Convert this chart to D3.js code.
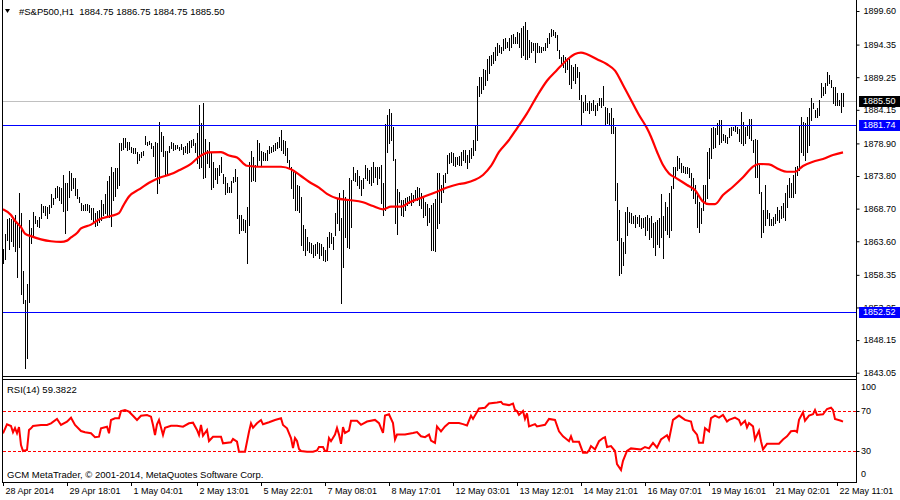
<!DOCTYPE html>
<html><head><meta charset="utf-8">
<script src="https://cdn.jsdelivr.net/npm/d3@7"></script>
<style>
body{margin:0;background:#fff}
svg{display:block}
text{font-family:"Liberation Sans",Arial,sans-serif;fill:#000}
</style>
</head><body>
<svg id="chart" width="900" height="500"></svg>
<script>
// ---------- DATA ----------
const symbolName = "#S&P500,H1";
const lastOHLC = [1884.75, 1886.75, 1884.75, 1885.50];
const bidPrice = 1885.50;
const levelLines = [1881.74, 1852.52];
const rsiPeriod = 14;
const rsiLast = 59.3822;
const copyright = "GCM MetaTrader, \u00a9 2001-2014, MetaQuotes Software Corp.";

const high = [
1862.39,1864.73,1867.08,1867.24,1867.08,1867.39,1867.70,1866.45,1871.15,1868.02,
1858.95,1854.41,1856.91,1866.92,1865.67,1868.17,1867.55,1866.92,1867.39,1869.42,
1869.11,1869.11,1868.96,1869.27,1870.99,1870.36,1871.93,1872.24,1872.08,1871.93,
1873.96,1872.71,1872.71,1874.59,1874.27,1873.49,1873.49,1871.77,1870.52,1869.58,
1869.27,1869.42,1869.42,1869.27,1868.80,1868.80,1868.02,1868.33,1868.49,1870.05,
1869.42,1870.99,1873.02,1873.80,1875.21,1874.43,1875.05,1875.05,1878.96,1878.96,
1879.74,1879.74,1879.12,1879.12,1878.34,1878.18,1878.18,1877.56,1877.24,1877.56,
1877.71,1880.06,1879.12,1879.28,1878.96,1878.49,1879.12,1878.96,1882.25,1880.68,
1880.06,1877.71,1877.71,1878.49,1879.12,1878.96,1878.65,1878.65,1878.34,1878.81,
1878.34,1878.49,1878.96,1879.28,1879.43,1879.59,1878.96,1880.53,1884.91,1882.09,
1885.22,1879.59,1877.87,1879.12,1877.40,1875.99,1875.05,1875.05,1875.52,
1876.77,1874.12,1873.65,1872.71,1872.08,1873.02,1873.65,1874.90,1873.65,1867.70,
1867.70,1867.08,1866.92,1868.96,1875.99,1877.71,1876.77,1875.52,1879.43,1878.96,
1877.71,1877.56,1877.40,1877.87,1878.49,1878.34,1878.65,1878.96,1879.12,1879.90,
1880.99,1879.43,1879.28,1878.18,1876.31,1875.21,1874.43,1874.43,1872.40,1872.24,
1870.52,1866.14,1865.52,1864.26,1863.48,1863.33,1863.01,1863.17,1863.48,1863.33,
1863.17,1862.70,1862.23,1864.26,1865.05,1864.89,1864.26,1868.02,1870.36,1871.15,
1867.24,1871.61,1870.52,1870.05,1873.49,1873.18,1875.21,1874.27,1874.74,1873.80,
1873.18,1873.49,1875.52,1875.05,1874.74,1875.21,1875.99,1875.21,1875.21,1875.21,
1875.52,1872.71,1881.93,1883.34,1884.28,1883.65,1881.46,1876.46,1871.77,1871.30,
1870.05,1870.05,1870.36,1870.52,1870.68,1871.15,1870.83,1871.61,1872.08,1871.93,
1871.15,1870.52,1869.74,1869.42,1868.80,1869.27,1869.58,1870.21,1874.27,1874.27,
1872.40,1873.96,1874.27,1877.09,1877.40,1877.56,1877.40,1876.77,1876.77,1876.93,
1877.56,1877.87,1877.87,1877.09,1877.87,1878.18,1879.43,1881.78,
1887.87,1889.28,1889.28,1890.53,1890.38,1892.10,1892.56,1892.72,1893.19,1893.97,
1894.60,1894.28,1893.97,1895.22,1895.38,1894.75,1895.38,1895.85,1896.00,1895.53,
1896.32,1896.16,1896.94,1897.26,1897.88,1896.63,1895.07,1894.75,1894.60,1894.60,
1894.60,1894.13,1893.97,1893.97,1894.60,1895.38,1896.16,1896.79,1896.63,1896.32,
1895.85,1893.50,1892.41,1892.72,1892.41,1892.25,1892.41,1891.16,1890.85,1891.31,
1890.85,1890.06,
1886.47,1885.37,1886.47,1885.22,1885.53,1885.22,1885.69,1884.91,1885.22,1886.00,
1886.00,1887.87,1884.59,1884.43,1883.65,1884.43,1882.87,1881.46,1872.71,1868.49,
1864.11,1863.48,1868.17,1868.96,1868.17,1868.02,1867.55,1867.70,1867.39,1867.70,
1867.24,1867.24,1867.39,1867.70,1867.24,1867.55,1866.45,1866.61,1866.92,1867.24,
1870.99,1867.55,1869.74,1868.96,1871.15,1872.24,1875.21,1875.21,1876.93,1876.62,
1875.84,1875.37,1875.21,1875.21,1875.05,
1874.27,1873.49,1872.40,1870.83,1869.74,1868.80,1872.40,1872.40,1877.56,1878.18,
1881.31,1881.46,1881.31,1882.09,1882.56,1882.56,1880.37,1880.21,1879.90,1881.31,
1881.46,1881.46,1881.78,1881.46,1881.15,1883.81,1882.25,1881.46,1881.78,1882.71,
1882.71,1879.43,1879.59,1879.43,1875.52,1871.30,1868.49,1872.40,1868.49,1868.02,
1867.08,1867.39,1867.86,1868.96,1868.49,1869.11,1869.58,1871.15,1872.40,1873.49,
1872.71,1873.96,1875.21,1875.37,1881.78,1883.03,1882.25,1882.09,1883.03,1884.43,
1886.00,1885.22,1884.12,1884.43,1885.69,1888.34,1887.72,1888.34,1890.06,1889.60,
1888.81,1887.72,1887.72,1886.78,1885.69,1886.78,1886.75
];

const low = [
1860.20,1860.82,1863.80,1862.39,1863.64,1862.86,1862.08,1858.01,1862.70,1855.35,
1853.95,1843.78,1845.35,1854.10,1863.33,1864.58,1866.45,1865.98,1865.83,1867.24,
1868.17,1867.70,1867.24,1868.02,1868.96,1869.42,1870.36,1870.52,1870.05,1869.58,
1868.33,1864.89,1868.49,1870.52,1871.61,1871.93,1870.83,1870.36,1869.74,1868.49,
1868.49,1868.49,1868.49,1868.17,1867.08,1866.45,1865.98,1866.14,1866.61,1866.92,
1867.70,1868.02,1867.55,1867.39,1865.98,1870.05,1870.68,1871.93,1872.40,1877.87,
1878.03,1878.34,1877.87,1878.03,1877.56,1877.40,1877.40,1875.84,1876.31,1876.77,
1877.09,1878.81,1878.65,1878.81,1878.18,1876.93,1873.80,1871.15,1872.71,1877.71,
1876.93,1874.12,1873.96,1877.56,1878.18,1877.87,1878.03,1878.18,1877.87,1878.03,
1877.24,1877.56,1877.40,1877.56,1878.34,1878.65,1877.56,1875.84,1875.05,1875.21,
1873.49,1873.65,1875.84,1875.21,1871.77,1872.08,1873.34,1872.71,1873.96,
1874.43,1872.71,1870.99,1871.30,1871.30,1871.30,1872.87,1873.02,1867.24,1864.89,
1865.36,1865.36,1865.05,1860.20,1866.14,1873.02,1873.18,1873.02,1875.52,1876.31,
1875.52,1876.31,1876.31,1876.31,1877.40,1877.56,1877.71,1877.87,1878.18,1878.34,
1877.87,1877.40,1877.09,1875.99,1875.05,1871.93,1870.36,1868.49,1868.49,1868.17,
1863.01,1862.23,1861.45,1862.23,1861.92,1861.76,1861.14,1861.45,1861.76,1860.98,
1861.45,1860.67,1860.51,1860.67,1862.70,1863.33,1862.39,1864.58,1866.45,1865.36,
1853.95,1859.57,1864.26,1862.70,1862.54,1865.83,1873.18,1873.02,1872.40,1871.93,
1870.83,1871.93,1873.49,1873.18,1872.71,1872.40,1872.87,1873.65,1872.55,1873.49,
1869.58,1867.70,1868.49,1877.56,1878.96,1879.43,1876.31,1866.45,1864.73,1869.74,
1867.70,1867.55,1868.49,1869.27,1869.58,1869.27,1869.74,1870.36,1870.05,1869.27,
1868.80,1867.39,1867.70,1866.14,1866.61,1862.23,1862.23,1862.08,1865.67,1866.45,
1869.74,1871.30,1872.87,1874.27,1875.84,1875.99,1875.52,1875.37,1875.68,1875.52,
1875.52,1876.31,1875.99,1875.05,1875.99,1876.62,1877.09,1877.87,
1879.43,1886.31,1886.78,1887.41,1888.03,1888.81,1889.91,1891.16,1891.47,1891.94,
1892.72,1893.19,1893.03,1893.50,1893.82,1893.97,1893.50,1893.97,1894.60,1894.60,
1894.60,1893.97,1892.41,1892.72,1892.10,1892.10,1892.41,1893.19,1893.50,1891.63,
1893.19,1893.19,1893.19,1893.50,1893.50,1893.97,1894.60,1895.69,1895.85,1895.53,
1893.50,1892.25,1891.47,1890.85,1890.06,1890.53,1888.19,1887.56,1888.81,1888.34,
1889.28,1885.84,
1881.78,1883.81,1884.12,1884.12,1883.65,1884.12,1884.12,1883.34,1884.12,1884.91,
1884.59,1884.91,1881.78,1882.09,1881.78,1880.53,1880.53,1870.05,1863.80,1858.32,
1858.64,1859.89,1861.76,1864.58,1866.61,1866.45,1866.45,1865.83,1866.45,1865.98,
1865.67,1865.83,1864.58,1865.36,1863.95,1864.26,1862.70,1861.45,1863.17,1862.70,
1864.26,1860.98,1865.36,1864.73,1864.26,1865.36,1871.93,1873.65,1874.74,1875.05,
1874.43,1874.43,1874.27,1874.27,1873.65,
1871.61,1870.36,1869.58,1865.83,1865.05,1866.45,1868.49,1869.58,1870.36,1873.49,
1876.62,1878.18,1878.34,1880.37,1878.81,1879.12,1879.43,1879.12,1878.96,1879.90,
1880.21,1880.99,1880.84,1880.53,1879.28,1878.96,1878.65,1878.96,1880.21,1879.74,
1879.43,1877.56,1873.65,1873.65,1871.15,1864.26,1865.05,1866.14,1867.24,1866.14,
1866.14,1866.14,1866.45,1866.92,1866.61,1867.24,1867.39,1866.92,1868.96,1870.52,
1870.52,1870.52,1871.15,1873.96,1874.74,1877.56,1877.09,1876.31,1877.56,1878.65,
1882.56,1884.43,1883.03,1883.03,1883.34,1886.16,1886.47,1886.78,1888.03,1888.34,
1887.72,1885.22,1884.91,1884.91,1884.91,1883.81,1884.75
];

const maIndex = [0,4,6,9,11,14,19,24,29,32,34,37,39,44,48,54,58,60,63,68,74,78,84,88,94,98,103,109,113,117,122,128,139,144,149,153,158,162,167,173,180,185,190,194,199,203,210,217,222,228,231,236,240,244,248,253,257,262,267,272,277,282,286,289,292,297,302,306,310,314,318,322,324,327,330,333,337,342,346,350,353,356,360,365,370,375,378,383,388,392,396,400,405,410,415,420];
const maValue = [1868.6,1867.7,1866.8,1865.8,1864.8,1864.4,1863.9,1863.6,1863.5,1863.7,1864.2,1864.9,1865.6,1866.2,1867.0,1867.55,1868.0,1869.1,1870.6,1871.7,1872.9,1873.5,1874.1,1874.7,1875.7,1876.8,1877.5,1877.55,1877.0,1876.7,1875.4,1875.25,1875.25,1874.85,1873.8,1872.9,1872.0,1871.0,1870.3,1870.05,1869.7,1869.1,1868.6,1869.0,1869.0,1869.65,1870.5,1871.35,1872.0,1872.55,1872.7,1873.2,1873.96,1875.37,1877.56,1879.43,1881.26,1883.6,1886.3,1888.7,1890.38,1891.94,1892.88,1893.1,1892.83,1892.05,1891.27,1890.27,1888.03,1885.69,1883.34,1881.26,1879.95,1877.6,1875.52,1874.2,1873.4,1872.4,1871.6,1869.8,1869.4,1869.4,1870.83,1872.13,1873.6,1875.26,1875.68,1875.63,1874.85,1874.47,1874.47,1875.37,1876.04,1876.46,1877.09,1877.5];

const rsiIndex = [0,2,4,5,6,7,8,9,10,12,13,14,15,19,22,24,27,29,32,34,36,39,41,44,46,48,49,52,53,54,56,58,59,61,63,65,67,69,72,74,75,76,77,78,80,81,84,87,90,93,95,97,98,99,100,102,103,105,109,110,114,115,117,118,121,123,124,125,127,129,130,133,136,139,140,142,144,145,146,147,148,149,152,155,157,158,160,161,162,163,164,166,167,168,169,170,171,173,174,177,179,182,186,188,190,191,193,195,196,197,201,205,207,209,211,213,214,216,217,219,221,223,228,230,232,234,235,238,241,243,247,249,250,253,255,256,257,258,260,261,262,263,266,267,271,273,276,278,280,283,284,285,288,290,292,293,294,296,298,300,301,302,304,306,307,309,310,312,314,319,321,323,325,327,329,332,333,335,338,341,344,345,347,348,350,351,353,354,356,358,360,362,363,366,368,369,371,372,373,375,376,378,379,380,382,386,388,390,392,394,396,397,398,400,401,403,405,406,407,410,412,414,415,416,419,420];
const rsiValue = [47.7,56.7,55,48.7,53,47.7,54,36,30,31,51,52.7,55,56,56,57.7,62,56,59.3,63.3,56,50,48.7,47.7,43.7,44.3,52.7,54.3,47.7,61,62.7,62.7,70,71,69.3,65.3,61,65.3,66,64.3,56,46,56.7,61,46,53.3,55.3,55.3,54.3,57.7,58.3,51,46,56,45.3,51,40,44.3,44.3,37.7,38.7,42,39.3,29.3,29.3,49.3,57.7,53.3,57.7,61,56.7,58.7,61,62.7,56,52.7,43,33,43,40,32,30,29.3,29.3,30.6,34,34,30,30,43,39.8,46.4,53,46.4,37.2,54,48,50.3,60.2,60.2,56.2,59.5,61.1,57.9,48,65.4,66.7,57.9,41.5,46.4,46.4,48,49,44.7,43.8,46.4,40.5,38.2,54.6,49.7,54.6,57.9,57.9,56.9,55.6,65.4,62.1,72.6,73.3,77.5,78.5,79.2,76.9,75.9,77.5,71,70,66.1,70,62.1,67.7,54.6,56.9,54.6,56.2,62.1,61.1,49.7,44.7,39.8,44.7,39.2,39.2,28.3,28.3,30.6,34.9,31.6,39.8,43,43.8,34,34.9,30,16.9,11,20.1,30,32.6,31.6,34,32.6,38.2,33.3,41.5,45.7,41.5,61.1,65.4,61.1,59.5,51.3,46.4,38.2,38.2,52.9,49.7,62.8,65.4,63.4,66.1,59.5,61.1,63.4,61.1,56.2,60.2,53.6,57.9,54.6,41.5,50.3,39.8,31.6,37.2,37.2,37.2,41.5,44.7,49.7,50.3,49,61.1,68.7,60.2,65.4,66.7,71,66.1,66.7,72,73.3,71,62.1,60.2,59.38];

const priceTicks = [1899.60,1894.35,1889.25,1884.15,1878.90,1873.80,1868.70,1863.60,1858.35,1853.25,1848.15,1843.05];
const rsiLevels = [70, 30];
const rsiScaleLabels = [100, 70, 30, 0];
const timeIndex = [0,32,64,97,129,161,193,225,257,289,321,353,385,417];
const timeLabels = ["28 Apr 2014","29 Apr 18:01","1 May 04:01","2 May 13:01","5 May 22:01","7 May 08:01","8 May 17:01","12 May 03:01","13 May 12:01","14 May 21:01","16 May 07:01","19 May 16:01","21 May 02:01","22 May 11:01"];

// ---------- LAYOUT ----------
const L = 2.5, R = 856.5;
const mainBottom = 376.5, rsiTop = 379.5, rsiBottom = 482.5;
const fs = 9;

const svg = d3.select("#chart");
svg.append("rect").attr("width",900).attr("height",500).attr("fill","#fff");

const x = d3.scaleLinear().domain([0, 420]).range([3, 843]);
const y = d3.scaleLinear().domain([1843.05, 1899.6]).range([372.7, 11]);
const yr = d3.scaleLinear().domain([0, 100]).range([481, 381]);
const px = v => Math.round(v) + 0.5;

svg.append("defs").append("clipPath").attr("id","clipMain")
  .append("rect").attr("x",L).attr("y",0).attr("width",R-L).attr("height",mainBottom);
svg.select("defs").append("clipPath").attr("id","clipRsi")
  .append("rect").attr("x",L).attr("y",rsiTop).attr("width",R-L).attr("height",rsiBottom-rsiTop);

const gMain = svg.append("g").attr("clip-path","url(#clipMain)");

// bid line (grey, behind bars)
gMain.append("line").attr("x1",L).attr("x2",R)
  .attr("y1",px(y(bidPrice))).attr("y2",px(y(bidPrice)))
  .attr("stroke","#c0c0c0").attr("stroke-width",1);

// bars (high-low)
const n = Math.min(high.length, low.length);
gMain.append("g").attr("shape-rendering","crispEdges")
  .selectAll("line").data(d3.range(n)).join("line")
  .attr("x1", i => px(x(i))).attr("x2", i => px(x(i)))
  .attr("y1", i => Math.round(y(high[i]))).attr("y2", i => Math.round(y(low[i])) + 1)
  .attr("stroke","#000").attr("stroke-width",1);

// moving average
const maN = Math.min(maIndex.length, maValue.length);
gMain.append("path")
  .datum(d3.range(maN))
  .attr("d", d3.line().x(k => x(maIndex[k])).y(k => y(maValue[k])).curve(d3.curveMonotoneX))
  .attr("fill","none").attr("stroke","#ff0000").attr("stroke-width",2.2);

// horizontal level lines (blue)
gMain.selectAll("line.lvl").data(levelLines).join("line").attr("class","lvl")
  .attr("x1",L).attr("x2",R)
  .attr("y1", d => px(y(d))).attr("y2", d => px(y(d)))
  .attr("stroke","#0000ff").attr("stroke-width",1);

// ---------- RSI ----------
const gRsi = svg.append("g").attr("clip-path","url(#clipRsi)");
gRsi.selectAll("line.lev").data(rsiLevels).join("line").attr("class","lev")
  .attr("x1",L).attr("x2",R)
  .attr("y1", d => px(yr(d))).attr("y2", d => px(yr(d)))
  .attr("stroke","#ff0000").attr("stroke-width",1).attr("stroke-dasharray","3,2")
  .attr("shape-rendering","crispEdges");
const rN = Math.min(rsiIndex.length, rsiValue.length);
gRsi.append("path").datum(d3.range(rN))
  .attr("d", d3.line().x(k => x(rsiIndex[k])).y(k => yr(rsiValue[k])))
  .attr("fill","none").attr("stroke","#ff0000").attr("stroke-width",2).attr("stroke-linejoin","miter");

// ---------- FRAMES ----------
const frame = svg.append("g").attr("stroke","#000").attr("stroke-width",1).attr("shape-rendering","crispEdges");
frame.append("line").attr("x1",L).attr("x2",L).attr("y1",0).attr("y2",rsiBottom);
frame.append("line").attr("x1",R).attr("x2",R).attr("y1",0).attr("y2",rsiBottom);
frame.append("line").attr("x1",L).attr("x2",R).attr("y1",mainBottom).attr("y2",mainBottom);
frame.append("line").attr("x1",L).attr("x2",R).attr("y1",rsiTop).attr("y2",rsiTop);
frame.append("line").attr("x1",L).attr("x2",R).attr("y1",rsiBottom).attr("y2",rsiBottom);

// ---------- AXES ----------
const yAxis = svg.append("g").attr("transform",`translate(${R},0)`)
  .call(d3.axisRight(y).tickValues(priceTicks).tickSize(3).tickPadding(4).tickFormat(d3.format(".2f")));
yAxis.select(".domain").remove();
yAxis.selectAll("text").attr("font-size",fs).attr("font-family","Liberation Sans, Arial, sans-serif").attr("fill","#000");
yAxis.selectAll("line").attr("stroke","#000");

// price boxes
function priceBox(v, bg){
  const yy = Math.round(y(v));
  const g = svg.append("g");
  g.append("rect").attr("x",859).attr("y",yy-5).attr("width",41).attr("height",11).attr("fill",bg);
  g.append("text").attr("x",863).attr("y",yy).attr("dy","0.34em")
    .attr("font-size",fs).style("fill","#fff").text(d3.format(".2f")(v));
}
priceBox(bidPrice, "#000");
levelLines.forEach(v => priceBox(v, "#0000ff"));

// RSI axis
const rAxis = svg.append("g").attr("transform",`translate(${R},0)`)
  .call(d3.axisRight(yr).tickValues(rsiLevels).tickSize(3).tickFormat(""));
rAxis.select(".domain").remove();
rAxis.selectAll("line").attr("stroke","#000");
svg.selectAll("text.rl").data(rsiScaleLabels).join("text").attr("class","rl")
  .attr("x", 861)
  .attr("y", d => d === 100 ? yr(d) + 6 : d === 0 ? yr(d) - 7 : yr(d))
  .attr("dy","0.34em").attr("font-size",fs).text(d => d);

// time axis
const xAxis = svg.append("g").attr("transform",`translate(0,${rsiBottom - 0.5})`)
  .call(d3.axisBottom(x).tickValues(timeIndex).tickSize(4).tickPadding(2).tickFormat((d,i) => timeLabels[i]));
xAxis.select(".domain").remove();
xAxis.selectAll("line").attr("stroke","#000");
xAxis.selectAll("text").attr("text-anchor","start").attr("x",2)
  .attr("font-size",fs).attr("font-family","Liberation Sans, Arial, sans-serif").attr("fill","#000");

// ---------- LABELS ----------
svg.append("path").attr("d","M5,9 L10,9 L7.5,13 Z").attr("fill","#000");
svg.append("text").attr("x",19).attr("y",14.5).attr("font-size",9.5).style("white-space","pre")
  .text(symbolName + "  " + lastOHLC.map(d3.format(".2f")).join(" "));
svg.append("text").attr("x",7).attr("y",392.5).attr("font-size",9.5)
  .text(`RSI(${rsiPeriod}) ${rsiLast.toFixed(4)}`);
svg.append("text").attr("x",7).attr("y",478).attr("font-size",9.5).text(copyright);
</script>
</body></html>
